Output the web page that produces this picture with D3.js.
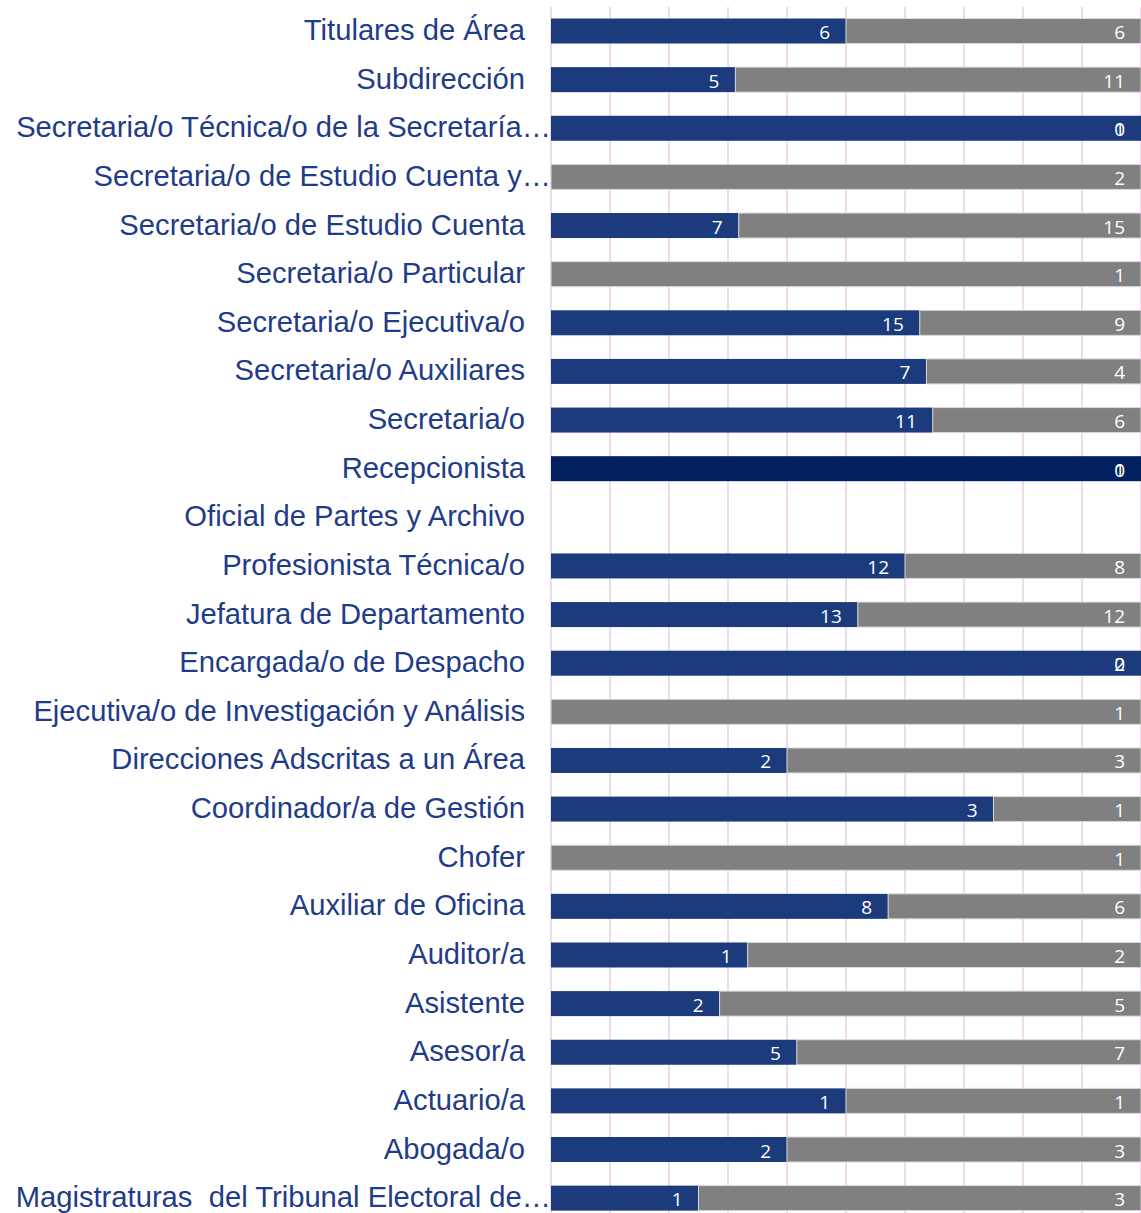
<!DOCTYPE html>
<html>
<head>
<meta charset="utf-8">
<script src="https://cdn.jsdelivr.net/npm/d3@7"></script>
<style>
  body { margin: 0; background: #fff; }
  svg { display: block; }
</style>
</head>
<body>
<div id="chart"></div>
<script>
// categories, top to bottom
var categories = [
  "Titulares de Área",
  "Subdirección",
  "Secretaria/o Técnica/o de la Secretaría…",
  "Secretaria/o de Estudio Cuenta y…",
  "Secretaria/o de Estudio Cuenta",
  "Secretaria/o Particular",
  "Secretaria/o Ejecutiva/o",
  "Secretaria/o Auxiliares",
  "Secretaria/o",
  "Recepcionista",
  "Oficial de Partes y Archivo",
  "Profesionista Técnica/o",
  "Jefatura de Departamento",
  "Encargada/o de Despacho",
  "Ejecutiva/o de Investigación y Análisis",
  "Direcciones Adscritas a un Área",
  "Coordinador/a de Gestión",
  "Chofer",
  "Auxiliar de Oficina",
  "Auditor/a",
  "Asistente",
  "Asesor/a",
  "Actuario/a",
  "Abogada/o",
  "Magistraturas  del Tribunal Electoral de…"
];

// blue series
var mujeres = [6, 5, 1, 0, 7, 0, 15, 7, 11, 1, 0, 12, 13, 2, 0, 2, 3, 0, 8, 1, 2, 5, 1, 2, 1];
// gray series
var hombres = [6, 11, 0, 2, 15, 1, 9, 4, 6, 0, 0, 8, 12, 0, 1, 3, 1, 1, 6, 2, 5, 7, 1, 3, 3];

var ticks = [0, 0.1, 0.2, 0.3, 0.4, 0.5, 0.6, 0.7, 0.8, 0.9, 1];

var width = 1141, height = 1213;
var blue = "#1c3b7c", navy = "#002060", gray = "#808080";

var svg = d3.select("#chart").append("svg")
  .attr("width", width)
  .attr("height", height);

var x = d3.scaleLinear().domain([0, 1]).range([551, 1141]);

var step = 48.63;
var y = d3.scaleBand()
  .domain(categories)
  .range([6.7, 6.7 + categories.length * step])
  .paddingInner(0.486)
  .paddingOuter(0.243);

// gridlines
svg.append("g")
  .selectAll("line")
  .data(ticks)
  .enter().append("line")
  .attr("x1", function(d) { return x(d); })
  .attr("x2", function(d) { return x(d); })
  .attr("y1", 7)
  .attr("y2", height)
  .attr("stroke", "#eedbee")
  .attr("stroke-width", 2);

var rows = categories.map(function(c, i) {
  var total = mujeres[i] + hombres[i];
  return {
    cat: c,
    a: mujeres[i],
    b: hombres[i],
    total: total,
    pa: total ? mujeres[i] / total : 0
  };
});

var bh = y.bandwidth();

// blue segments
svg.append("g")
  .selectAll("rect")
  .data(rows.filter(function(d) { return d.total > 0 && d.a > 0; }))
  .enter().append("rect")
  .attr("x", x(0))
  .attr("y", function(d) { return y(d.cat); })
  .attr("width", function(d) { return x(d.pa) - x(0); })
  .attr("height", bh)
  .attr("fill", function(d) { return d.cat == "Recepcionista" ? navy : blue; });

// gray segments
svg.append("g")
  .selectAll("rect")
  .data(rows.filter(function(d) { return d.total > 0 && d.b > 0; }))
  .enter().append("rect")
  .attr("x", function(d) { return x(d.pa); })
  .attr("y", function(d) { return y(d.cat); })
  .attr("width", function(d) { return x(1) - x(d.pa); })
  .attr("height", bh)
  .attr("fill", gray)
  .attr("stroke", "#d9d9d9")
  .attr("stroke-width", 1);

// value labels
var lab = svg.append("g")
  .attr("font-family", "'Open Sans', 'Noto Sans', sans-serif")
  .attr("font-size", 19)
  .attr("fill", "#fff")
  .attr("text-anchor", "end");

lab.selectAll("text.a")
  .data(rows.filter(function(d) { return d.a > 0; }))
  .enter().append("text")
  .attr("class", "a")
  .attr("x", function(d) { return x(d.pa) - 16; })
  .attr("y", function(d) { return y(d.cat) + bh / 2 + 8; })
  .text(function(d) { return d.a; });

lab.selectAll("text.b")
  .data(rows.filter(function(d) { return d.total > 0; }))
  .enter().append("text")
  .attr("class", "b")
  .attr("x", x(1) - 16)
  .attr("y", function(d) { return y(d.cat) + bh / 2 + 8; })
  .text(function(d) { return d.b; });

// category labels
svg.append("g")
  .selectAll("text")
  .data(categories)
  .enter().append("text")
  .attr("x", function(d) { return d.slice(-1) == "…" ? 551 : 525; })
  .attr("y", function(d) { return y(d) + bh / 2 + 9; })
  .attr("text-anchor", "end")
  .attr("font-family", "'Liberation Sans', Arial, sans-serif")
  .attr("font-size", 29.2)
  .attr("fill", "#1f3c88")
  .attr("xml:space", "preserve")
  .text(function(d) { return d; });
</script>
</body>
</html>
